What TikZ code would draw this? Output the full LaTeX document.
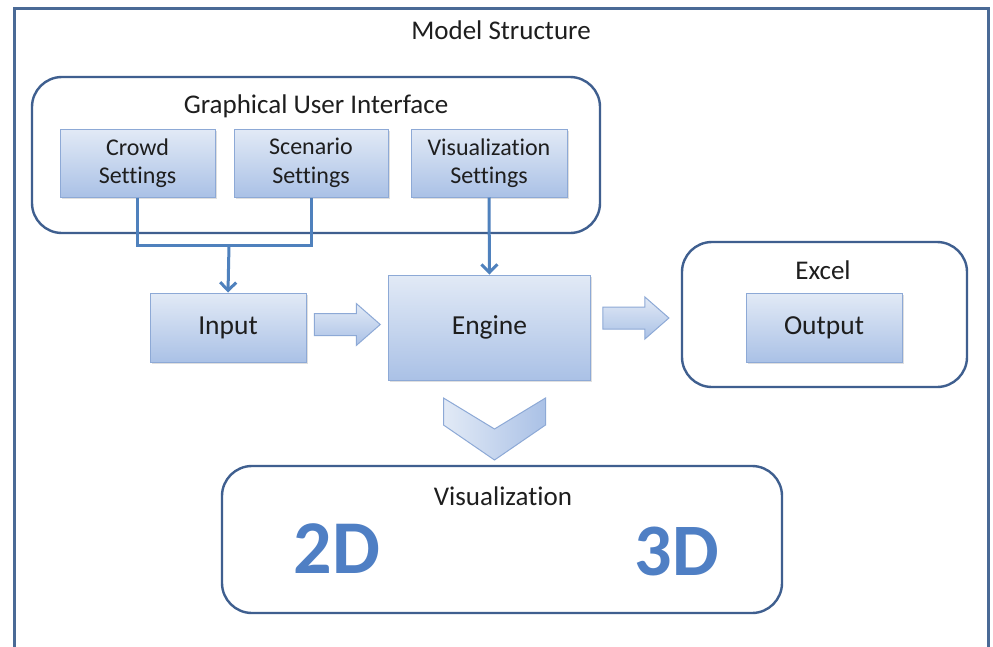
\documentclass[tikz,border=0pt]{standalone}
\usepackage{fontspec}
\setmainfont[Ligatures=NoCommon]{Carlito}
\usetikzlibrary{arrows.meta,shadows,calc}

\definecolor{framecol}{HTML}{4A6A96}
\definecolor{groupcol}{HTML}{3F5F8F}
\definecolor{boxtop}{HTML}{E2EAF6}
\definecolor{boxbot}{HTML}{AAC1E6}
\definecolor{boxedge}{HTML}{8DA9D6}
\definecolor{linkcol}{HTML}{4F81BD}
\definecolor{txtcol}{HTML}{1E1E1E}
\definecolor{bigtxt}{HTML}{4F7FC4}

\tikzset{
  x=1pt, y=-1pt,
  label/.style={text=txtcol, font=\fontsize{27}{30}\selectfont, inner sep=0pt},
  procbox/.style={draw=boxedge, line width=1pt, top color=boxtop, bottom color=boxbot,
    text=txtcol, font=\fontsize{24}{28.5}\selectfont, align=center, inner sep=0pt,
    drop shadow={opacity=0.25, shadow xshift=1.5pt, shadow yshift=-1.5pt}},
  bigproc/.style={procbox, font=\fontsize{27.5}{30}\selectfont},
  groupbox/.style={draw=groupcol, line width=2.4pt, rounded corners=30pt, fill=white, inner sep=0pt},
  link/.style={draw=linkcol, line width=3pt},
  linkarrow/.style={link, -{Straight Barb[length=8pt, width=16pt, line width=3pt]}},
  fatarrow/.style={draw=boxedge, line width=1pt, top color=boxtop, bottom color=boxbot},
  bigletters/.style={text=bigtxt, font=\bfseries\fontsize{76}{80}\selectfont, inner sep=0pt}
}

\begin{document}
\begin{tikzpicture}
\useasboundingbox (0,0) rectangle (993,646);
\fill[white] (0,0) rectangle (993,646);

% outer frame, open at the bottom
\draw[framecol, line width=3pt] (14,650) -- (14,8) -- (988,8) -- (988,650);
\node[label] (title) at (501,30) {Model Structure};

% graphical user interface group
\node[groupbox, minimum width=568pt, minimum height=156pt] (gui) at (316,155) {};
\node[label] (guititle) at (316,106) {Graphical User Interface};
\node[procbox, minimum width=155pt, minimum height=68pt] (crowd) at (137.5,163) {Crowd\\Settings};
\node[procbox, minimum width=154pt, minimum height=68pt] (scen) at (311,163) {Scenario\\Settings};
\node[procbox, minimum width=156pt, minimum height=68pt] (visset) at (489,163) {Visualization\\Settings};

% excel group
\node[groupbox, minimum width=285pt, minimum height=145pt] (excel) at (824.5,314.5) {};
\node[label] (exceltitle) at (823,270) {Excel};
\node[bigproc, minimum width=156pt, minimum height=69pt] (output) at (824,327.5) {Output};

% main processing row
\node[bigproc, minimum width=156pt, minimum height=69pt] (input) at (228,327.5) {Input};
\node[bigproc, minimum width=202pt, minimum height=105pt] (engine) at (489.5,327.5) {Engine};

% settings feed the input and the engine
\coordinate (join) at (229,245);
\draw[link] (crowd.south) |- (scen.south |- join) -- (scen.south);
\draw[linkarrow] (join) -- (input.north);
\draw[linkarrow] (visset.south) -- (engine.north);

% block arrows between the stages
\coordinate (a1) at ($(input.east)!0.5!(engine.west)+(0,-3)$);
\coordinate (a2) at ($(engine.east)!0.5!(excel.west)+(0,-3)$);
\foreach \c in {a1,a2}
  \path[fatarrow] (\c) ++(-33,-11) -- ++(42,0) -- ++(0,-10) -- ++(24,21)
    -- ++(-24,21) -- ++(0,-10) -- ++(-42,0) -- cycle;

% chevron towards the visualization
\coordinate (chev) at (494.5,398);
\path[draw=boxedge, line width=1pt, left color=boxtop, right color=boxbot]
  (chev) ++(-51,0) -- ++(51,31) -- ++(51,-31) -- ++(0,27) -- ++(-51,35) -- ++(-51,-35) -- cycle;

% visualization group
\node[groupbox, minimum width=560pt, minimum height=147pt] (vis) at (502,539.5) {};
\node[label] (vistitle) at (503,496) {Visualization};
\node[bigletters] (twod) at (337,549) {2D};
\node[bigletters, font=\bfseries\fontsize{74}{80}\selectfont] (threed) at (677,551) {3D};
\end{tikzpicture}
\end{document}
